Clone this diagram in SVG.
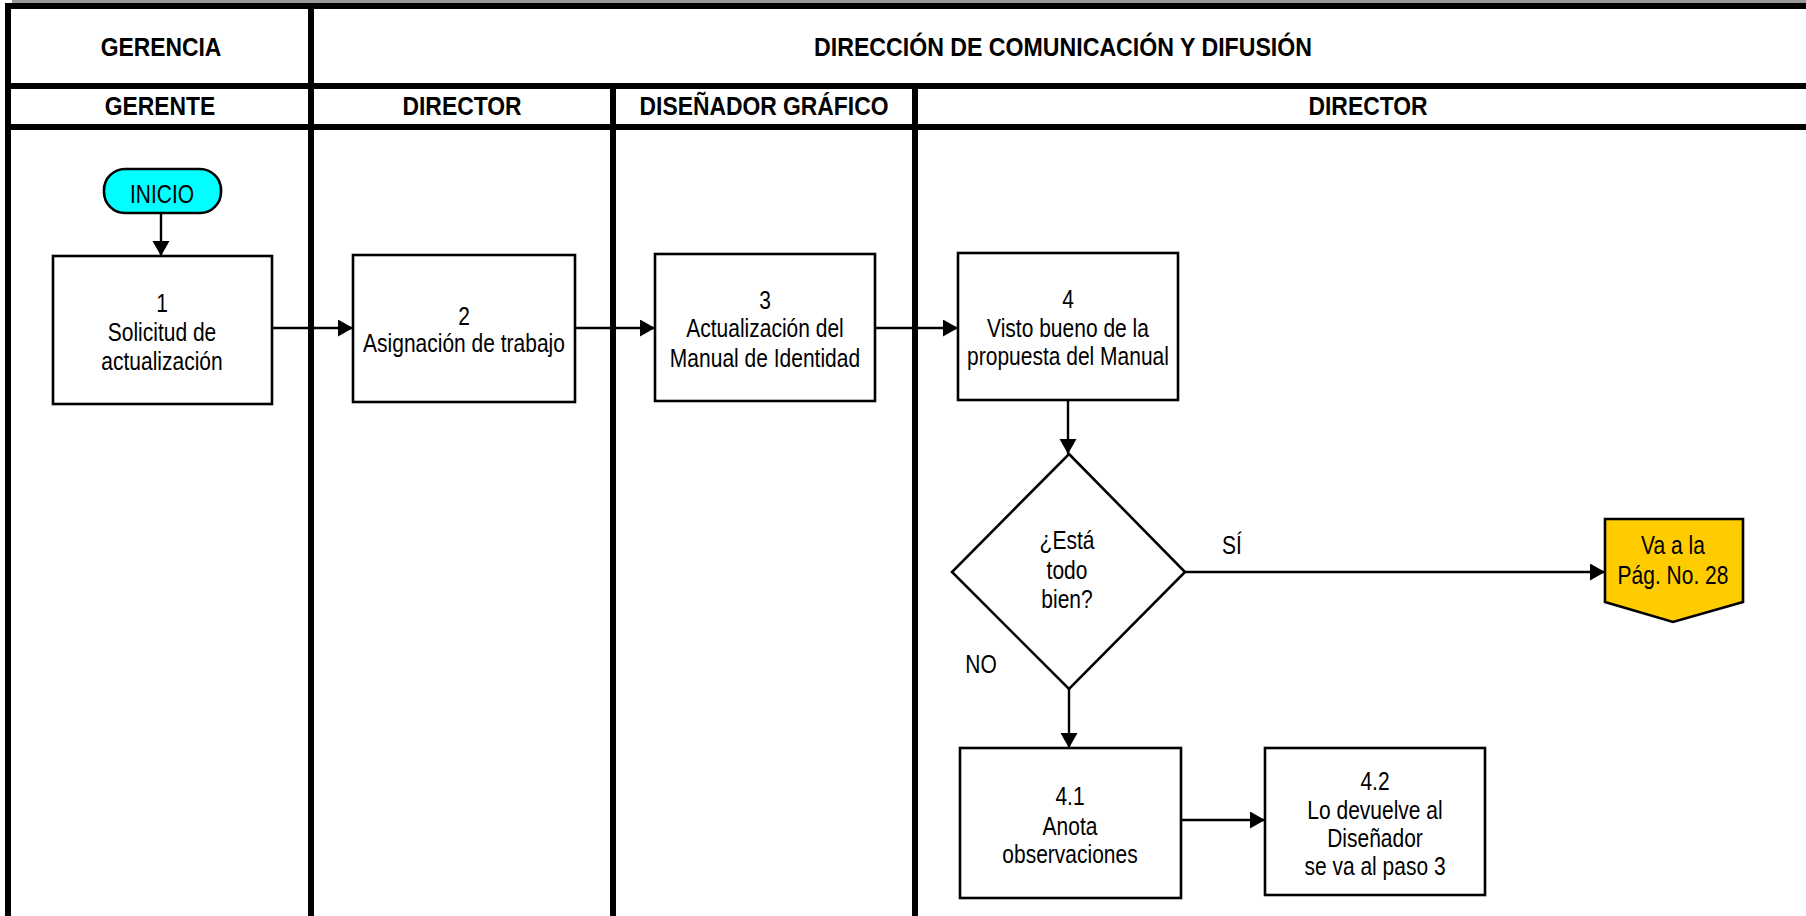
<svg xmlns="http://www.w3.org/2000/svg" width="1806" height="916" viewBox="0 0 1806 916">
  <style>
    .grid { stroke: #000; stroke-width: 6; fill: none; }
    .box { fill: #fff; stroke: #000; stroke-width: 2.6; }
    .flow { stroke: #000; stroke-width: 2.4; fill: none; marker-end: url(#arrow); }
    text { font-family: "Liberation Sans", Arial, sans-serif; fill: #000; text-anchor: middle; }
    .hdr { font-size: 26px; font-weight: bold; }
    .lbl { font-size: 25px; }
  </style>
  <defs>
    <marker id="arrow" markerUnits="userSpaceOnUse" markerWidth="16" markerHeight="18" refX="15" refY="8.5" orient="auto">
      <path d="M0,0 L15,8.5 L0,17 Z" fill="#000"/>
    </marker>
  </defs>

  <rect x="0" y="0" width="1806" height="916" fill="#fff"/>

  <!-- swimlane table; text is condensed horizontally to a narrow face -->
  <g id="lanes">
    <rect x="12" y="0" width="1794" height="4" fill="#9a9a9a"/>
    <line class="grid" x1="5" y1="6" x2="1806" y2="6"/>
    <line class="grid" x1="8" y1="3" x2="8" y2="916"/>
    <line class="grid" x1="8" y1="86" x2="1806" y2="86" stroke-width="5"/>
    <line class="grid" x1="8" y1="127" x2="1806" y2="127"/>
    <line class="grid" x1="311" y1="6" x2="311" y2="916"/>
    <line class="grid" x1="613" y1="86" x2="613" y2="916"/>
    <line class="grid" x1="915" y1="86" x2="915" y2="916"/>
    <text class="hdr" transform="translate(161,56) scale(0.88,1)">GERENCIA</text>
    <text class="hdr" transform="translate(1063,56) scale(0.89,1)">DIRECCIÓN DE COMUNICACIÓN Y DIFUSIÓN</text>
    <text class="hdr" transform="translate(160,115) scale(0.88,1)">GERENTE</text>
    <text class="hdr" transform="translate(462,115) scale(0.88,1)">DIRECTOR</text>
    <text class="hdr" transform="translate(764,115) scale(0.88,1)">DISEÑADOR GRÁFICO</text>
    <text class="hdr" transform="translate(1368,115) scale(0.88,1)">DIRECTOR</text>
  </g>

  <!-- connectors -->
  <g id="connectors">
    <line class="flow" x1="161" y1="213" x2="161" y2="256"/>
    <line class="flow" x1="272" y1="328" x2="353" y2="328"/>
    <line class="flow" x1="575" y1="328" x2="655" y2="328"/>
    <line class="flow" x1="875" y1="328" x2="958" y2="328"/>
    <line class="flow" x1="1068" y1="400" x2="1068" y2="454"/>
    <line class="flow" x1="1185" y1="572" x2="1605" y2="572"/>
    <line class="flow" x1="1069" y1="689" x2="1069" y2="748"/>
    <line class="flow" x1="1181" y1="820" x2="1265" y2="820"/>
    <text class="lbl" transform="translate(1232,554) scale(0.84,1)">SÍ</text>
    <text class="lbl" transform="translate(981,673) scale(0.84,1)">NO</text>
  </g>

  <g id="inicio">
    <rect x="104" y="169" width="117" height="44" rx="21" ry="21" fill="#00ffff" stroke="#000" stroke-width="2.6"/>
    <text class="lbl" transform="translate(162,203) scale(0.84,1)">INICIO</text>
  </g>

  <g id="step1">
    <rect class="box" x="53" y="256" width="219" height="148"/>
    <text class="lbl" transform="translate(162,312) scale(0.84,1)">1</text>
    <text class="lbl" transform="translate(162,341) scale(0.84,1)">Solicitud de</text>
    <text class="lbl" transform="translate(162,370) scale(0.84,1)">actualización</text>
  </g>

  <g id="step2">
    <rect class="box" x="353" y="255" width="222" height="147"/>
    <text class="lbl" transform="translate(464,325) scale(0.84,1)">2</text>
    <text class="lbl" transform="translate(464,352) scale(0.84,1)">Asignación de trabajo</text>
  </g>

  <g id="step3">
    <rect class="box" x="655" y="254" width="220" height="147"/>
    <text class="lbl" transform="translate(765,309) scale(0.84,1)">3</text>
    <text class="lbl" transform="translate(765,337) scale(0.84,1)">Actualización del</text>
    <text class="lbl" transform="translate(765,367) scale(0.84,1)">Manual de Identidad</text>
  </g>

  <g id="step4">
    <rect class="box" x="958" y="253" width="220" height="147"/>
    <text class="lbl" transform="translate(1068,308) scale(0.84,1)">4</text>
    <text class="lbl" transform="translate(1068,337) scale(0.84,1)">Visto bueno de la</text>
    <text class="lbl" transform="translate(1068,365) scale(0.84,1)">propuesta del Manual</text>
  </g>

  <g id="decision">
    <polygon class="box" points="1069,454 1185,572 1069,689 952,572"/>
    <text class="lbl" transform="translate(1067,549) scale(0.84,1)">¿Está</text>
    <text class="lbl" transform="translate(1067,579) scale(0.84,1)">todo</text>
    <text class="lbl" transform="translate(1067,608) scale(0.84,1)">bien?</text>
  </g>

  <g id="offpage">
    <path d="M1605,519 H1743 V602 L1673,622 L1605,602 Z" fill="#ffcc00" stroke="#000" stroke-width="2.6"/>
    <text class="lbl" transform="translate(1673,554) scale(0.84,1)">Va a la</text>
    <text class="lbl" transform="translate(1673,584) scale(0.84,1)">Pág. No. 28</text>
  </g>

  <g id="step4-1">
    <rect class="box" x="960" y="748" width="221" height="150"/>
    <text class="lbl" transform="translate(1070,805) scale(0.84,1)">4.1</text>
    <text class="lbl" transform="translate(1070,835) scale(0.84,1)">Anota</text>
    <text class="lbl" transform="translate(1070,863) scale(0.84,1)">observaciones</text>
  </g>

  <g id="step4-2">
    <rect class="box" x="1265" y="748" width="220" height="147"/>
    <text class="lbl" transform="translate(1375,790) scale(0.84,1)">4.2</text>
    <text class="lbl" transform="translate(1375,819) scale(0.84,1)">Lo devuelve al</text>
    <text class="lbl" transform="translate(1375,847) scale(0.84,1)">Diseñador</text>
    <text class="lbl" transform="translate(1375,875) scale(0.84,1)">se va al paso 3</text>
  </g>
</svg>
